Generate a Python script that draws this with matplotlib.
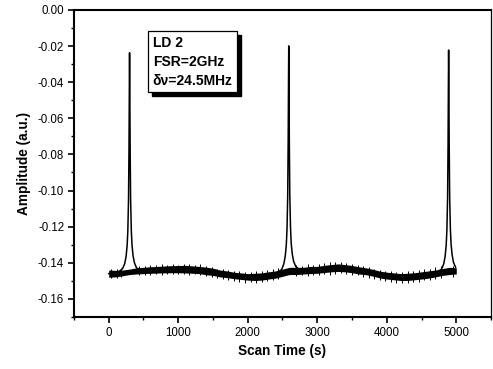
import matplotlib
matplotlib.use("Agg")
import matplotlib.pyplot as plt
from matplotlib.patches import Rectangle
from matplotlib.ticker import MultipleLocator, FormatStrFormatter
import numpy as np

plt.rcParams['font.family'] = ['Liberation Sans', 'DejaVu Sans']
plt.rcParams['axes.unicode_minus'] = False

# ---- data ----
base_x = [0, 100, 200, 300, 400, 500, 600, 700, 800, 900,
          1000, 1100, 1200, 1300, 1400, 1500, 1600, 1700, 1800, 1900,
          2000, 2100, 2200, 2300, 2400, 2500, 2600, 2700, 2800, 2900,
          3000, 3100, 3200, 3300, 3400, 3500, 3600, 3700, 3800, 3900,
          4000, 4100, 4200, 4300, 4400, 4500, 4600, 4700, 4800, 4900, 5000]
base_hi = [-0.1440, -0.1442, -0.1440, -0.1435, -0.1428, -0.1425, -0.1422, -0.1420, -0.1418, -0.1416,
           -0.1415, -0.1414, -0.1417, -0.1420, -0.1424, -0.1430, -0.1440, -0.1445, -0.1452, -0.1456,
           -0.1460, -0.1458, -0.1456, -0.1450, -0.1445, -0.1435, -0.1425, -0.1425, -0.1425, -0.1420,
           -0.1420, -0.1414, -0.1410, -0.1406, -0.1410, -0.1415, -0.1422, -0.1428, -0.1436, -0.1446,
           -0.1452, -0.1456, -0.1460, -0.1458, -0.1455, -0.1450, -0.1445, -0.1440, -0.1432, -0.1425, -0.1428]
base_lo = [-0.1480, -0.1478, -0.1472, -0.1465, -0.1462, -0.1460, -0.1458, -0.1457, -0.1456, -0.1455,
           -0.1455, -0.1456, -0.1458, -0.1460, -0.1466, -0.1470, -0.1478, -0.1482, -0.1488, -0.1492,
           -0.1496, -0.1498, -0.1496, -0.1490, -0.1485, -0.1475, -0.1465, -0.1465, -0.1462, -0.1460,
           -0.1458, -0.1454, -0.1450, -0.1448, -0.1450, -0.1455, -0.1462, -0.1466, -0.1474, -0.1484,
           -0.1490, -0.1494, -0.1498, -0.1498, -0.1494, -0.1490, -0.1485, -0.1478, -0.1470, -0.1465, -0.1462]

spike_x = [40, 120, 180, 440, 520, 600, 680, 760, 840, 920,
           1000, 1080, 1160, 1240, 1320, 1400, 1480, 1560, 1640, 1720,
           1800, 1880, 1960, 2040, 2120, 2200, 2280, 2360, 2440, 2700,
           2780, 2860, 2940, 3020, 3100, 3180, 3260, 3340, 3420, 3500,
           3580, 3660, 3740, 3820, 3900, 3980, 4060, 4140, 4220, 4300,
           4380, 4460, 4540, 4620, 4700, 4780, 4960]
spike_top = [-0.1432, -0.1436, -0.1430, -0.1415, -0.1420, -0.1410, -0.1414, -0.1408, -0.1412, -0.1406,
             -0.1410, -0.1404, -0.1408, -0.1412, -0.1406, -0.1418, -0.1422, -0.1432, -0.1436, -0.1440,
             -0.1444, -0.1448, -0.1450, -0.1452, -0.1448, -0.1446, -0.1440, -0.1436, -0.1430, -0.1412,
             -0.1416, -0.1408, -0.1410, -0.1404, -0.1400, -0.1398, -0.1394, -0.1396, -0.1400, -0.1406,
             -0.1412, -0.1418, -0.1426, -0.1432, -0.1440, -0.1446, -0.1448, -0.1452, -0.1450, -0.1448,
             -0.1446, -0.1442, -0.1436, -0.1432, -0.1426, -0.1418, -0.1420]
spike_bot = [-0.1485, -0.1482, -0.1478, -0.1470, -0.1468, -0.1465, -0.1462, -0.1466, -0.1460, -0.1462,
             -0.1464, -0.1460, -0.1466, -0.1462, -0.1468, -0.1472, -0.1478, -0.1486, -0.1490, -0.1496,
             -0.1500, -0.1506, -0.1510, -0.1508, -0.1514, -0.1506, -0.1502, -0.1498, -0.1492, -0.1474,
             -0.1470, -0.1472, -0.1468, -0.1466, -0.1462, -0.1466, -0.1460, -0.1458, -0.1464, -0.1468,
             -0.1470, -0.1476, -0.1482, -0.1490, -0.1496, -0.1502, -0.1506, -0.1512, -0.1510, -0.1514,
             -0.1506, -0.1504, -0.1498, -0.1494, -0.1488, -0.1482, -0.1476]

peak_dx = [-300, -200, -150, -100, -70, -50, -35, -25, -15, -8, -3, 0,
           3, 8, 15, 25, 35, 50, 70, 100, 150, 200, 300]
peak_centers = [300, 2590, 4890]
peak1_y = [-0.1460, -0.1455, -0.1448, -0.1432, -0.1405, -0.1365, -0.1305, -0.1225, -0.1050, -0.0760, -0.0420, -0.0237,
           -0.0410, -0.0750, -0.1045, -0.1220, -0.1300, -0.1360, -0.1400, -0.1428, -0.1440, -0.1438, -0.1436]
peak2_y = [-0.1470, -0.1460, -0.1452, -0.1436, -0.1405, -0.1362, -0.1300, -0.1215, -0.1030, -0.0720, -0.0370, -0.0199,
           -0.0360, -0.0710, -0.1020, -0.1200, -0.1290, -0.1350, -0.1392, -0.1420, -0.1438, -0.1444, -0.1446]
peak3_y = [-0.1465, -0.1458, -0.1450, -0.1434, -0.1405, -0.1364, -0.1302, -0.1220, -0.1040, -0.0740, -0.0395, -0.0222,
           -0.0385, -0.0730, -0.1035, -0.1210, -0.1295, -0.1355, -0.1398, -0.1425, -0.1442, -0.1445, -0.1445]

box_lines = ["LD 2", "FSR=2GHz", "δν=24.5MHz"]

# ---- figure ----
fig = plt.figure(figsize=(4.93, 3.69), dpi=100)
ax = fig.add_axes([0.150, 0.141, 0.846, 0.832])

ax.fill_between(base_x, base_lo, base_hi, color='black', linewidth=0)
ax.vlines(spike_x, spike_bot, spike_top, color='black', linewidth=0.7)

peak_ys = [peak1_y, peak2_y, peak3_y]
for c, py in zip(peak_centers, peak_ys):
    px = np.array(peak_dx) + c
    py = np.array(py)
    m = (px >= 0) & (px <= 5000)
    ax.plot(px[m], py[m], color='black', linewidth=1.1)

ax.set_xlim(-500, 5500)
ax.set_ylim(-0.17, 0.0)
ax.xaxis.set_major_locator(MultipleLocator(1000))
ax.xaxis.set_minor_locator(MultipleLocator(500))
ax.yaxis.set_major_locator(MultipleLocator(0.02))
ax.yaxis.set_minor_locator(MultipleLocator(0.01))
ax.yaxis.set_major_formatter(FormatStrFormatter('%.2f'))

ax.tick_params(which='major', direction='out', length=4, width=1.2, labelsize=8.3, pad=3)
ax.tick_params(which='minor', direction='out', length=2.5, width=1.0)
ax.tick_params(top=False, right=False)

for s in ['left', 'bottom', 'top']:
    ax.spines[s].set_linewidth(1.5)
ax.spines['right'].set_linewidth(0.9)

ax.set_xlabel('Scan Time (s)', fontsize=9.8, fontweight='bold', labelpad=4)
ax.set_ylabel('Amplitude (a.u.)', fontsize=9.8, fontweight='bold', labelpad=5)

# text box with shadow
bx0, by0, bw, bh = 0.177, 0.733, 0.214, 0.199
ax.add_patch(Rectangle((bx0 + 0.010, by0 - 0.014), bw, bh, transform=ax.transAxes,
                       facecolor='black', edgecolor='black', zorder=5))
ax.add_patch(Rectangle((bx0, by0), bw, bh, transform=ax.transAxes,
                       facecolor='white', edgecolor='black', linewidth=0.9, zorder=6))
for i, t in enumerate(box_lines):
    ax.text(bx0 + 0.012, by0 + bh - 0.038 - i * 0.062, t, transform=ax.transAxes,
            fontsize=10.0, fontweight='bold', va='center', ha='left', zorder=7)

fig.savefig('out.png', dpi=100)
